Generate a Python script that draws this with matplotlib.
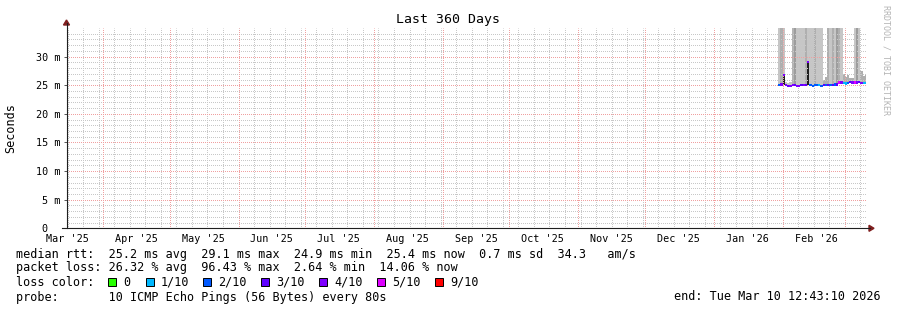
#!/usr/bin/env python3

"""
plot.py - smokeping style "Last 360 Days" graph
"""

from datetime import datetime, timedelta

import numpy as np
import matplotlib
matplotlib.use("Agg")
import matplotlib.pyplot as plt
from matplotlib.patches import Rectangle

W, H = 897, 310

start = datetime(2025, 3, 15, 12, 43, 10)
end = datetime(2026, 3, 10, 12, 43, 10)
first_day = datetime(2026, 1, 30)

# daily values from Jan 30 to Mar 10 2026
median_ms = [25.0, 25.1, 26.8, 25.0, 24.9, 24.9, 25.0, 25.0, 24.9, 24.9,
             25.0, 25.0, 25.0, 29.1, 25.0, 24.9, 25.0, 25.0, 25.0, 24.9,
             25.0, 25.0, 25.0, 25.0, 25.0, 25.1, 25.1, 25.5, 25.5, 25.4,
             25.3, 25.4, 25.6, 25.5, 25.5, 25.5, 25.6, 25.4, 25.4, 25.4]
low_ms = [24.9, 25.0, 25.0, 24.9, 24.8, 24.8, 24.9, 24.9, 24.8, 24.8,
          24.9, 24.9, 24.9, 25.0, 24.9, 24.8, 24.9, 24.9, 24.9, 24.8,
          24.9, 24.9, 24.9, 24.9, 24.9, 25.0, 25.0, 25.4, 25.4, 25.3,
          25.2, 25.3, 25.5, 25.4, 25.4, 25.4, 25.5, 25.3, 25.3, 25.3]
lost_pings = [2, 4, 4, 4, 3, 4, 4, 3, 4, 4,
              3, 4, 3, 4, 2, 2, 2, 2, 1, 2,
              3, 2, 3, 2, 3, 2, 3, 5, 4, 1,
              1, 2, 3, 4, 5, 4, 3, 4, 1, 1]
smoke_top_ms = [40, 40, 40, 25.6, 25.4, 25.6, 40, 40, 40, 40,
                40, 40, 40, 40, 40, 40, 40, 40, 40, 40,
                26.0, 26.4, 40, 40, 40, 40, 40, 40, 40, 27.0,
                26.5, 26.8, 26.3, 26.2, 40, 40, 40, 27.5, 26.6, 27.0]
smoke_density = [0.1, 0.3, 0.1, 0.1, 0.1, 0.1, 0.25, 0.45, 0.1, 0.1,
                 0.1, 0.1, 0.3, 0.1, 0.1, 0.1, 0.3, 0.1, 0.1, 0.1,
                 0.3, 0.3, 0.3, 0.1, 0.3, 0.1, 0.45, 0.3, 0.1, 0.3,
                 0.3, 0.3, 0.3, 0.3, 0.1, 0.45, 0.1, 0.3, 0.3, 0.3]

month_labels = ["Mar '25", "Apr '25", "May '25", "Jun '25", "Jul '25", "Aug '25",
                "Sep '25", "Oct '25", "Nov '25", "Dec '25", "Jan '26", "Feb '26"]
loss_labels = ["0", "1/10", "2/10", "3/10", "4/10", "5/10", "9/10"]
loss_colors = ["#26ff00", "#00b8ff", "#0059ff", "#5e00ff", "#7e00ff", "#dd00ff", "#ff0000"]

legend_lines = [
    "median rtt:  25.2 ms avg  29.1 ms max  24.9 ms min  25.4 ms now  0.7 ms sd  34.3   am/s",
    "packet loss: 26.32 % avg  96.43 % max  2.64 % min  14.06 % now",
    "loss color:",
    "probe:       10 ICMP Echo Pings (56 Bytes) every 80s",
]
end_text = "end: Tue Mar 10 12:43:10 2026"


def fx(px):
    return px / W


def fy(py):
    return 1 - py / H


def loss_color(n):
    return loss_colors[min(n, 6)]


def grid_line(line):
    line.set_snap(True)
    line.set_antialiased(True)


def main():
    plt.rcParams["font.family"] = ["DejaVu Sans Mono"]

    fig = plt.figure(figsize=(W / 100, H / 100), dpi=100)
    fig.patch.set_facecolor("white")
    ax = fig.add_axes([fx(66.5), fy(228.3), fx(866) - fx(66.5), fy(28) - fy(228.3)])

    days = [first_day + timedelta(days=i) for i in range(len(median_ms))]
    med = np.array(median_ms) / 1000
    low = np.array(low_ms) / 1000
    top = np.array(smoke_top_ms) / 1000
    grays = [str(0.82 - 0.45 * d) for d in smoke_density]

    # smoke
    ax.bar(days, top - med, bottom=med, width=1, align="edge", color=grays,
           linewidth=0, zorder=1, antialiased=False)
    ax.bar(days, med - low, bottom=low, width=1, align="edge", color="#1e1e1e",
           linewidth=0, zorder=1.5)
    # median, coloured by loss
    ax.bar(days, 0.00042, bottom=med - 0.00021, width=1, align="edge",
           color=[loss_color(n) for n in lost_pings], linewidth=0, zorder=3,
           antialiased=False)

    ax.set_xlim(start, end)
    ax.set_ylim(0, 0.035)

    # grid (1px dotted, drawn over the smoke like rrdtool does)
    grid_col = "#c8c8c8"
    mgrid_col = "#f0a0a0"
    dash = (0.5, (1, 1))
    for ms in range(1, 35):
        major = ms % 5 == 0
        grid_line(ax.axhline(ms / 1000, color=mgrid_col if major else grid_col,
                             lw=0.72, ls=dash, zorder=2.6 if major else 2.5))
    sunday = datetime(2025, 3, 16)
    while sunday < end:
        grid_line(ax.axvline(sunday, color=grid_col, lw=0.72, ls=dash, zorder=2.5))
        sunday += timedelta(days=7)
    for i in range(12):
        y, m = 2025 + (3 + i) // 12, (3 + i) % 12 + 1
        grid_line(ax.axvline(datetime(y, m, 1), color=mgrid_col, lw=0.72, ls=dash,
                             zorder=2.6))

    # ticks
    ax.set_yticks([v / 1000 for v in range(0, 31, 5)])
    ax.set_yticklabels(["0  "] + ["%d m" % v for v in range(5, 31, 5)])
    mids = []
    for i in range(12):
        y, m = 2025 + (2 + i) // 12, (2 + i) % 12 + 1
        mids.append(datetime(y, m, 1) + timedelta(days=15))
    ax.set_xticks(mids)
    ax.set_xticklabels(month_labels)
    ax.tick_params(axis="both", labelsize=7.3)
    ax.tick_params(axis="y", length=2.2, width=0.7, color="#555555", pad=2.3)
    ax.tick_params(axis="x", length=0, pad=4.0)

    for s in ax.spines.values():
        s.set_visible(False)

    # axes with arrows
    axis_col = (0.12, 0.12, 0.12)
    arrow_col = (0.5, 0.12, 0.12)
    fig.add_artist(plt.Line2D([fx(66.5), fx(66.5)], [fy(228.3), fy(23)],
                              color=axis_col, lw=0.8))
    fig.add_artist(plt.Line2D([fx(62), fx(870)], [fy(228.3), fy(228.3)],
                              color=axis_col, lw=0.8))
    fig.add_artist(plt.Polygon([[fx(63.5), fy(25)], [fx(69.5), fy(25)], [fx(66.5), fy(20)]],
                               closed=True, color=arrow_col, transform=fig.transFigure))
    fig.add_artist(plt.Polygon([[fx(869), fy(225.3)], [fx(869), fy(231.3)], [fx(874), fy(228.3)]],
                               closed=True, color=arrow_col, transform=fig.transFigure))

    # texts
    fig.text(fx(448), fy(19), "Last 360 Days", ha="center", va="center", fontsize=9.5)
    fig.text(fx(11), fy(128), "Seconds", rotation=90, ha="center", va="center", fontsize=8.5)
    fig.text(fx(886), fy(60), "RRDTOOL / TOBI OETIKER", rotation=270, ha="center",
             va="center", fontsize=6, color="#b4b4b4")

    rows = [254.5, 268, 282, 297]
    for line, ry in zip(legend_lines, rows):
        fig.text(fx(16), fy(ry), line, ha="left", va="center", fontsize=8.5)
    fig.text(fx(881), fy(297), end_text, ha="right", va="center", fontsize=8.5)

    box_x = [108, 146, 203, 261, 319, 377, 435]
    for bx, lab, col in zip(box_x, loss_labels, loss_colors):
        fig.add_artist(Rectangle((fx(bx), fy(286)), 8 / W, 8 / H, transform=fig.transFigure,
                                 facecolor=col, edgecolor="black", lw=0.7))
        fig.text(fx(bx + 15), fy(282), lab, ha="left", va="center", fontsize=8.5)

    fig.savefig("out.png", dpi=100, facecolor="white")


if __name__ == "__main__":
    main()
